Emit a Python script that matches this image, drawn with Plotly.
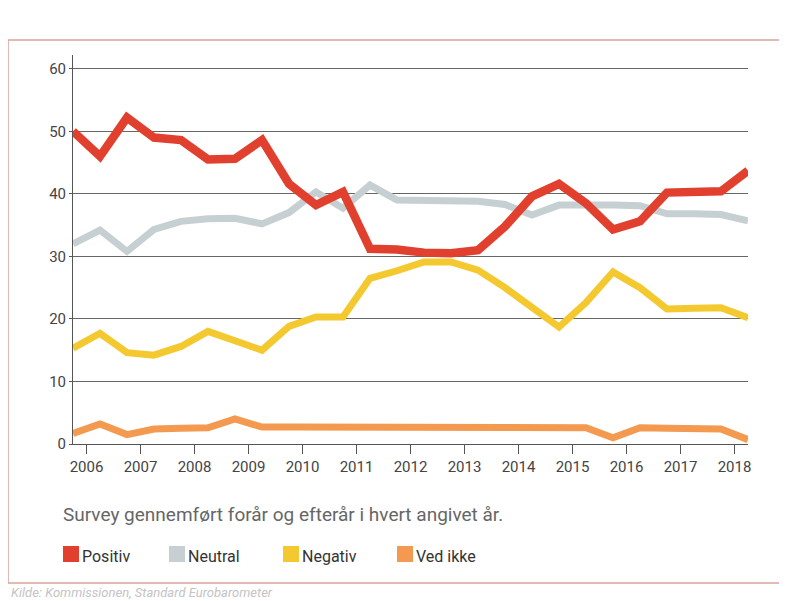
import plotly.graph_objects as go

# Survey rounds (spring/autumn), plotted on a year axis
survey_x = [2005.75, 2006.25, 2006.75, 2007.25, 2007.75, 2008.25, 2008.75, 2009.25,
            2009.75, 2010.25, 2010.75, 2011.25, 2011.75, 2012.25, 2012.75, 2013.25,
            2013.75, 2014.25, 2014.75, 2015.25, 2015.75, 2016.25, 2016.75, 2017.25,
            2017.75, 2018.25]

positiv = [50.0, 46.0, 52.2, 49.0, 48.6, 45.5, 45.6, 48.6, 41.6, 38.2, 40.3, 31.2, 31.1,
           30.6, 30.5, 31.0, 34.8, 39.6, 41.6, 38.5, 34.3, 35.6, 40.2, 40.3, 40.4, 43.7]
neutral = [32.0, 34.2, 30.8, 34.3, 35.6, 36.0, 36.1, 35.2, 37.0, 40.3, 37.7, 41.4, 39.0,
           39.0, 38.9, 38.8, 38.3, 36.6, 38.2, 38.3, 38.2, 38.1, 36.8, 36.8, 36.7, 35.7]
negativ = [15.3, 17.7, 14.6, 14.2, 15.6, 18.0, 16.5, 15.0, 18.8, 20.3, 20.3, 26.5, 27.7,
           29.1, 29.1, 27.8, 25.0, 21.9, 18.7, 22.6, 27.5, 25.0, 21.6, 21.7, 21.8, 20.2]
ved_ikke = [1.7, 3.2, 1.5, 2.4, 2.5, 2.6, 4.0, 2.7, 2.7, 2.7, 2.7, 2.6, 2.6,
            2.6, 2.6, 2.6, 2.6, 2.6, 2.6, 2.6, 1.0, 2.6, 2.5, 2.5, 2.4, 0.7]

year_ticks = list(range(2006, 2019))
y_ticks = [0, 10, 20, 30, 40, 50, 60]

series_names = ["Positiv", "Neutral", "Negativ", "Ved ikke"]
series_colors = ["#e2402e", "#c6d0d2", "#f4c930", "#f39a50"]
series_widths = [8.5, 7, 7, 7]
series_values = [positiv, neutral, negativ, ved_ikke]

caption = "Survey gennemført forår og efterår i hvert angivet år."
source = "Kilde: Kommissionen, Standard Eurobarometer"

# page (window) geometry; the page body adds an 8px offset
OFF = 8
W, H = 787 - OFF, 601 - OFF
plot_left, plot_right, plot_top, plot_bottom = 73, 748, 55, 444   # page pixels
L = plot_left - OFF
T = plot_top - OFF
R = (787 - OFF) - (plot_right - OFF)
B = (601 - OFF) - (plot_bottom - OFF)
PW, PH = plot_right - plot_left, plot_bottom - plot_top


def px_x(px):
    return (px - plot_left) / PW


def px_y(py):
    return (plot_bottom - py) / PH


fig = go.Figure()
# draw order: neutral, ved ikke, negativ, positiv (red on top)
for idx in [1, 3, 2, 0]:
    fig.add_trace(go.Scatter(
        x=survey_x, y=series_values[idx], mode="lines", name=series_names[idx],
        line=dict(color=series_colors[idx], width=series_widths[idx]), showlegend=False,
        hoverinfo="x+y+name"))

font_family = "Roboto, 'DejaVu Sans', sans-serif"

fig.update_layout(
    width=W, height=H,
    margin=dict(l=L, r=R, t=T, b=B, pad=0),
    paper_bgcolor="white", plot_bgcolor="white",
    font=dict(family=font_family, color="#444"),
    xaxis=dict(range=[survey_x[0], survey_x[-1]], tickvals=year_ticks,
               ticktext=[str(y) for y in year_ticks],
               showgrid=False, zeroline=False, showline=True, linecolor="#555", linewidth=1,
               ticks="outside", ticklen=9, tickcolor="#555", tickwidth=1,
               tickfont=dict(size=15, color="#444")),
    yaxis=dict(range=[0, 62.2], tickvals=y_ticks, showgrid=True, gridcolor="#666", gridwidth=1,
               zeroline=False, showline=True, linecolor="#555", linewidth=1,
               ticks="outside", ticklen=3, tickcolor="#555",
               tickfont=dict(size=15, color="#444")),
)

shapes = []
annotations = []

# page frame
shapes.append(dict(type="rect", xref="paper", yref="paper",
                   x0=px_x(8), x1=px_x(781), y0=px_y(583), y1=px_y(40),
                   line=dict(color="#d9a49a", width=1.5), fillcolor="rgba(0,0,0,0)", layer="below"))

# caption
annotations.append(dict(text=caption, xref="paper", yref="paper", x=px_x(61), y=px_y(514),
                        xanchor="left", yanchor="middle", showarrow=False,
                        font=dict(size=19, color="#666", family=font_family)))

# legend (squares + labels)
sq_left = [63, 169, 283, 397]
txt_left = [80, 186, 300, 414]
leg_y = 554
for i, name in enumerate(series_names):
    shapes.append(dict(type="rect", xref="paper", yref="paper",
                       x0=px_x(sq_left[i]), x1=px_x(sq_left[i] + 16),
                       y0=px_y(leg_y + 8), y1=px_y(leg_y - 8),
                       line=dict(width=0), fillcolor=series_colors[i]))
    annotations.append(dict(text=name, xref="paper", yref="paper", x=px_x(txt_left[i]),
                            y=px_y(leg_y + 2), xanchor="left", yanchor="middle", showarrow=False,
                            font=dict(size=16, color="#333", family=font_family)))

# source line at the bottom edge
annotations.append(dict(text="<i>" + source + "</i>", xref="paper", yref="paper", x=px_x(9),
                        y=px_y(592), xanchor="left", yanchor="middle", showarrow=False,
                        font=dict(size=13, color="#c4c4c4", family=font_family)))

fig.update_layout(shapes=shapes, annotations=annotations)
fig.write_html("out.html")
